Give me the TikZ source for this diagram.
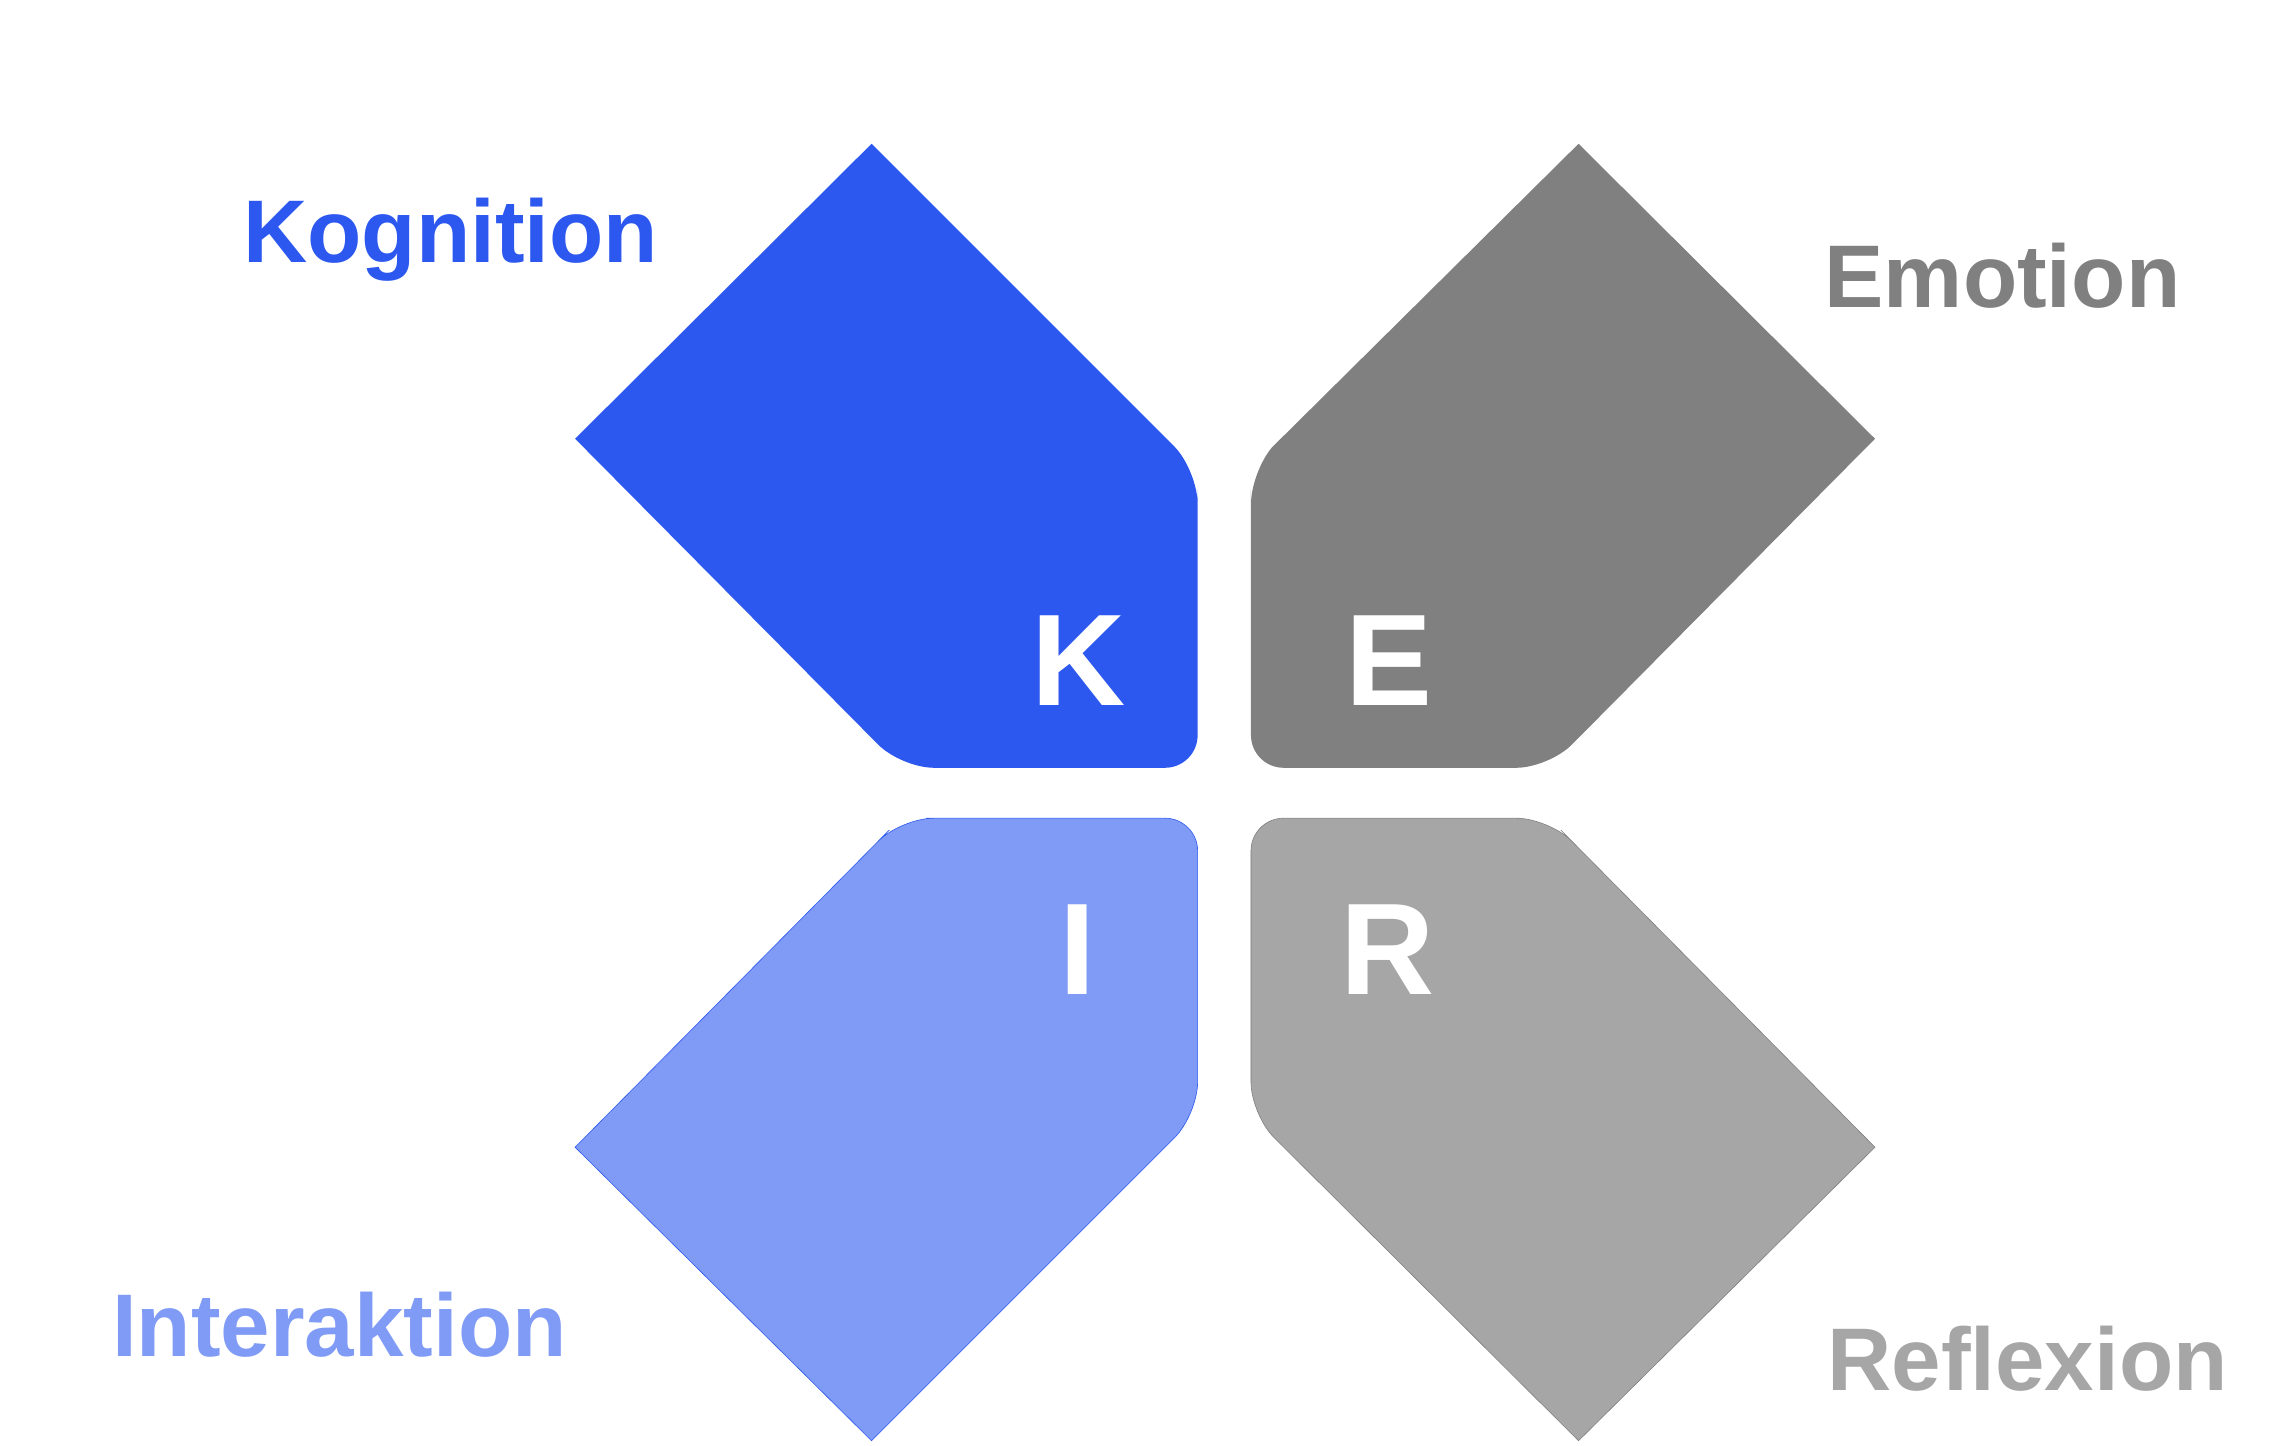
\documentclass[tikz,border=0pt]{standalone}
\usepackage{fontspec}
\setmainfont{Liberation Sans}
\definecolor{kblue}{HTML}{2D58F0}
\definecolor{iblue}{HTML}{7F9BF5}
\definecolor{egray}{HTML}{808080}
\definecolor{rgray}{HTML}{A6A6A6}
\begin{document}
\begin{tikzpicture}[x=1pt,y=-1pt,
  lbl/.style={font=\fontsize{60}{60}\selectfont\bfseries},
  big/.style={font=\fontsize{88}{88}\selectfont\bfseries,text=white}]
\useasboundingbox (0,0) rectangle (1545,975);
\fill[kblue] (588,97) -- (388,296) [rounded corners=22pt]-- (608,518) -- (808,518) [sharp corners]-- (808,330) [rounded corners=22pt] -- (808,318) [sharp corners] -- (793,302) -- cycle;
\fill[egray] (1065,97) -- (1265,296) [rounded corners=22pt]-- (1045,518) -- (844,518) [sharp corners]-- (844,330) [rounded corners=22pt]-- (844,318) [sharp corners]-- (858,302) -- cycle;
\draw[kblue,fill=iblue] (388,774) -- (588,972) [rounded corners=22pt]-- (808,752) -- (808,552) [sharp corners]-- (625,552) [rounded corners=22pt]-- (608,552) [sharp corners]-- (600,560) -- cycle;
\draw[egray,fill=rgray] (1265,774) -- (1065,972) [rounded corners=22pt]-- (844,752) -- (844,552) [sharp corners]-- (1025,552) [rounded corners=22pt]-- (1045,552) [sharp corners]-- (1053,560) -- cycle;
\node[big] (k) at (728,446) {K};
\node[big] (e) at (937,446) {E};
\node[big] (i) at (727,641) {I};
\node[big] (r) at (936,641) {R};
\node[lbl,text=kblue] (kl) at (304,162) {Kognition};
\node[lbl,text=egray] (el) at (1351,186) {Emotion};
\node[lbl,text=iblue] (il) at (229,894) {Interaktion};
\node[lbl,text=rgray] (rl) at (1368,917) {Reflexion};
\end{tikzpicture}
\end{document}
